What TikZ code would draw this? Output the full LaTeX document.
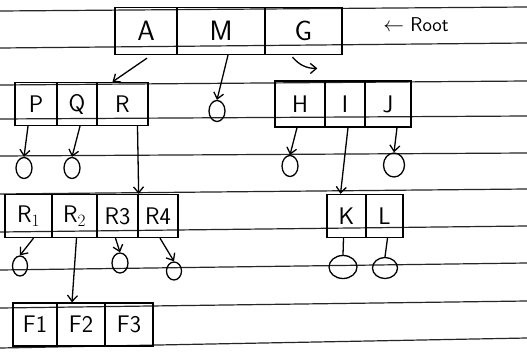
\documentclass[tikz,border=0pt]{standalone}
\usepackage{tikz}
\usetikzlibrary{arrows.meta,positioning,shapes.geometric}

\begin{document}
\begin{tikzpicture}[x=1pt,y=-1pt,
  rule/.style={line width=1.2pt,black!85},
  cell/.style={draw,line width=1.3pt,minimum height=43pt,inner sep=0pt,
               font=\fontsize{24}{26}\selectfont\sffamily},
  rootcell/.style={cell,minimum height=47pt,font=\fontsize{28}{30}\selectfont\sffamily},
  nil/.style={draw,ellipse,line width=1.3pt,minimum width=16pt,
              minimum height=21pt,inner sep=0pt},
  arr/.style={-{Straight Barb[length=6pt,width=10pt]},line width=1.3pt},
  link/.style={line width=1.3pt}
]
\fill[white] (0,0) rectangle (527,353);
\useasboundingbox (0,0) rectangle (527,353);
% ruled paper
\foreach \yl/\yr in {11/7,48/43,85/81,119/116,156/153,194/189,232/226,270/263,308/301,348/338}
  \draw[rule] (0,\yl) -- (527,\yr);

% root
\node[rootcell,minimum width=62pt] (a) at (146,31) {A};
\node[rootcell,minimum width=88pt] (m) at (221,31) {M};
\node[rootcell,minimum width=77pt] (g) at (303.5,31) {G};
\node[font=\fontsize{20}{22}\selectfont\sffamily] (root) at (416,25) {$\leftarrow$ Root};

% second level
\node[cell,minimum width=42pt] (p) at (36,104) {P};
\node[cell,minimum width=40pt] (q) at (77,104) {Q};
\node[cell,minimum width=51pt] (r) at (122.5,104) {R};
\node[nil] (cm) at (217,111) {};
\node[cell,minimum width=50pt,minimum height=46pt] (h) at (300,104) {H};
\node[cell,minimum width=40pt,minimum height=46pt] (i) at (345,104) {I};
\node[cell,minimum width=46pt,minimum height=46pt] (j) at (388,104) {J};

\node[nil] (cp) at (24,168) {};
\node[nil] (cq) at (72,168) {};
\node[nil] (ch) at (290,166) {};
\node[nil,minimum width=21pt,minimum height=24pt] (cj) at (394,165) {};

% third level
\node[cell,minimum width=47pt] (r1) at (28.5,216) {R$_1$};
\node[cell,minimum width=45pt] (r2) at (74.5,216) {R$_2$};
\node[cell,minimum width=41pt] (r3) at (117.5,216) {R3};
\node[cell,minimum width=40pt] (r4) at (158,216) {R4};
\node[cell,minimum width=39pt] (k) at (346.5,216) {K};
\node[cell,minimum width=37pt] (l) at (384.5,216) {L};

\node[nil,minimum width=15pt,minimum height=20pt] (cr1) at (20,266) {};
\node[nil,minimum width=16pt,minimum height=20pt] (cr3) at (120,263) {};
\node[nil,minimum width=15pt,minimum height=18pt] (cr4) at (174,271) {};
\node[nil,minimum width=28pt,minimum height=23pt] (ck) at (343,267) {};
\node[nil,minimum width=25pt,minimum height=21pt] (cl) at (385,268) {};

% fourth level
\node[cell,minimum width=44pt] (f1) at (35,324.5) {F1};
\node[cell,minimum width=48pt] (f2) at (81,324.5) {F2};
\node[cell,minimum width=48pt] (f3) at (129,324.5) {F3};

% pointers
\draw[arr] ([xshift=1pt,yshift=-3pt]a.south) -- ([xshift=-10pt]r.north);
\draw[arr] ([xshift=7pt]m.south) -- (cm.north);
\draw[arr] ([xshift=-11pt,yshift=-2pt]g.south) to[bend right=25] ([xshift=-7pt,yshift=12pt]i.north west);
\draw[arr] ([xshift=-8pt]p.south) -- (cp.north);
\draw[arr] ([xshift=3pt]q.south) -- (cq.north);
\draw[arr] ([xshift=15pt]r.south) -- (r3.north east);
\draw[arr] ([xshift=-3pt]h.south) -- (ch.north);
\draw[arr] ([xshift=3pt]i.south) -- ([xshift=-6pt]k.north);
\draw[arr] ([xshift=9pt]j.south) -- (cj.north);
\draw[arr] ([xshift=5pt]r1.south) -- (cr1.north);
\draw[arr] ([xshift=2pt]r2.south) -- ([xshift=-9pt]f2.north);
\draw[arr] ([xshift=-2pt]r3.south) -- (cr3.north);
\draw[arr] ([xshift=2pt]r4.south) -- (cr4.north);
\draw[link] ([xshift=-3pt]k.south) -- (ck.north);
\draw[link] ([xshift=3pt]l.south) -- (cl.north);
\end{tikzpicture}
\end{document}
